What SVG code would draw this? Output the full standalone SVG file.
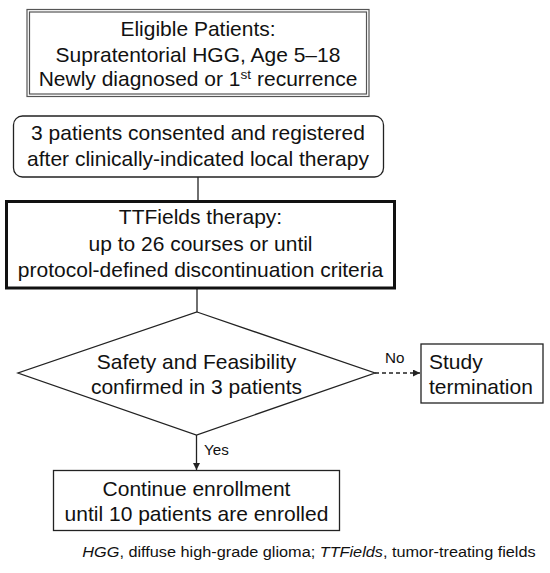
<svg xmlns="http://www.w3.org/2000/svg" width="550" height="573" viewBox="0 0 550 573">
<style>
  .t { font-family: "Liberation Sans", Arial, sans-serif; font-size: 20px; fill: #111; text-anchor: middle; }
  .tl { font-family: "Liberation Sans", Arial, sans-serif; font-size: 20px; fill: #111; }
  .lab { font-family: "Liberation Sans", Arial, sans-serif; font-size: 14.5px; fill: #111; }
  .foot { font-family: "Liberation Sans", Arial, sans-serif; font-size: 15.5px; fill: #111; text-anchor: middle; }
  .box { fill: #fff; stroke: #222; stroke-width: 1.3; }
  .dbl { fill: none; stroke: #555; stroke-width: 1.2; }
  .thick { fill: #fff; stroke: #111; stroke-width: 3; }
  .line { fill: none; stroke: #222; stroke-width: 1.3; }
  .dash { fill: none; stroke: #222; stroke-width: 1.3; stroke-dasharray: 4 3; }
</style>
<defs>
  <marker id="arr" viewBox="0 0 10 10" refX="10" refY="5" markerWidth="7" markerHeight="7" markerUnits="userSpaceOnUse" orient="auto">
    <path d="M0,0 L10,5 L0,10 z" fill="#222"/>
  </marker>
</defs>
<rect width="550" height="573" fill="#fff"/>

<g id="connectors">
  <line class="line" x1="198" y1="177" x2="198" y2="201"/>
  <line class="line" x1="197" y1="288" x2="197" y2="312"/>
  <line class="dash" x1="375" y1="373" x2="420" y2="373" marker-end="url(#arr)"/>
  <line class="line" x1="196.5" y1="435" x2="196.5" y2="470" marker-end="url(#arr)"/>
  <text class="lab" transform="translate(385,363) scale(1.05,1)">No</text>
  <text class="lab" transform="translate(204,455) scale(1.05,1)">Yes</text>
</g>

<g id="eligible">
  <rect class="dbl" x="27" y="9.5" width="342" height="87"/>
  <rect class="dbl" x="29.5" y="12" width="337" height="82"/>
  <text class="t" transform="translate(198,35.5) scale(1.05,1)">Eligible Patients:</text>
  <text class="t" transform="translate(198,61.5) scale(1.05,1)">Supratentorial HGG, Age 5–18</text>
  <text class="t" transform="translate(198,86) scale(1.05,1)">Newly diagnosed or 1<tspan dy="-7" font-size="13">st</tspan><tspan dy="7"> recurrence</tspan></text>
</g>

<g id="consented">
  <rect class="box" x="13.5" y="116" width="370" height="61" rx="9"/>
  <text class="t" transform="translate(198,139.5) scale(1.05,1)">3 patients consented and registered</text>
  <text class="t" transform="translate(198,166) scale(1.05,1)">after clinically-indicated local therapy</text>
</g>

<g id="ttfields">
  <rect class="thick" x="6.5" y="201.5" width="388" height="86.5"/>
  <text class="t" transform="translate(200.5,223.5) scale(1.05,1)">TTFields therapy:</text>
  <text class="t" transform="translate(200.5,251) scale(1.05,1)">up to 26 courses or until</text>
  <text class="t" transform="translate(200.5,277) scale(1.05,1)">protocol-defined discontinuation criteria</text>
</g>

<g id="decision">
  <polygon class="box" points="197,312 375,373 196.5,435 18,373"/>
  <text class="t" transform="translate(196.5,368.5) scale(1.05,1)">Safety and Feasibility</text>
  <text class="t" transform="translate(196.5,393.5) scale(1.05,1)">confirmed in 3 patients</text>
</g>

<g id="termination">
  <rect class="box" x="421" y="344" width="122" height="59"/>
  <text class="tl" transform="translate(429,368.5) scale(1.05,1)">Study</text>
  <text class="tl" transform="translate(429,393.5) scale(1.05,1)">termination</text>
</g>

<g id="continue">
  <rect class="box" x="53.5" y="470.5" width="286" height="60"/>
  <text class="t" transform="translate(196.5,495.5) scale(1.05,1)">Continue enrollment</text>
  <text class="t" transform="translate(196.5,520.5) scale(1.05,1)">until 10 patients are enrolled</text>
</g>

<g id="footnote">
  <text class="foot" transform="translate(309,557) scale(1.05,1)"><tspan font-style="italic">HGG</tspan>, diffuse high-grade glioma; <tspan font-style="italic">TTFields</tspan>, tumor-treating fields</text>
</g>
</svg>
